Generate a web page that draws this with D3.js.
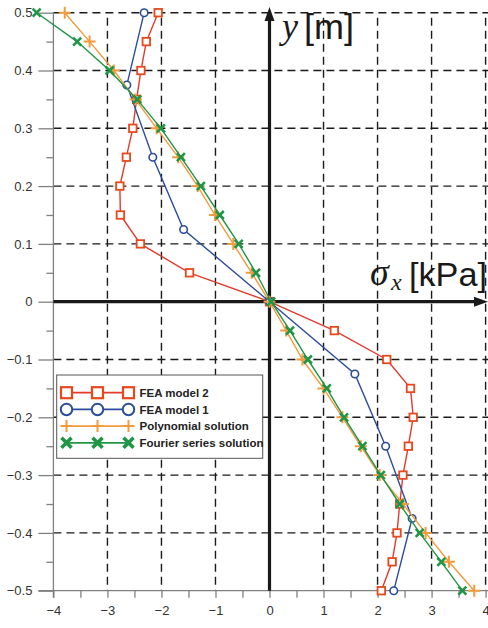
<!DOCTYPE html>
<html><head><meta charset="utf-8">
<script src="https://cdn.jsdelivr.net/npm/d3@7"></script>
<style>html,body{margin:0;padding:0;background:#fff;}svg{display:block;}</style>
</head><body>
<script>
// ---- data ----
const fea2Y = [0.5,0.45,0.4,0.35,0.3,0.25,0.2,0.15,0.1,0.05,0,-0.05,-0.1,-0.15,-0.2,-0.25,-0.3,-0.35,-0.4,-0.45,-0.5];
const fea2X = [-2.06,-2.28,-2.38,-2.46,-2.53,-2.65,-2.77,-2.76,-2.39,-1.48,0,1.20,2.17,2.61,2.66,2.57,2.47,2.41,2.36,2.27,2.07];
const fea1Y = [0.5,0.375,0.25,0.125,0,-0.125,-0.25,-0.375,-0.5];
const fea1X = [-2.32,-2.64,-2.16,-1.59,0,1.58,2.15,2.64,2.30];
const polyY = [0.5,0.45,0.4,0.35,0.3,0.25,0.2,0.15,0.1,0.05,0,-0.05,-0.1,-0.15,-0.2,-0.25,-0.3,-0.35,-0.4,-0.45,-0.5];
const polyX = [-3.79,-3.33,-2.88,-2.48,-2.09,-1.69,-1.33,-1.01,-0.67,-0.33,0,0.31,0.61,1.00,1.35,1.69,2.04,2.47,2.89,3.32,3.79];
const fourY = [0.5,0.45,0.4,0.35,0.3,0.25,0.2,0.15,0.1,0.05,0,-0.05,-0.1,-0.15,-0.2,-0.25,-0.3,-0.35,-0.4,-0.45,-0.5];
const fourX = [-4.31,-3.56,-2.96,-2.45,-2.01,-1.64,-1.27,-0.92,-0.57,-0.25,0.03,0.38,0.71,1.06,1.38,1.72,2.06,2.41,2.78,3.18,3.57];
const seriesNames = ["FEA model 2","FEA model 1","Polynomial solution","Fourier series solution"];
const xTicks = [-4,-3,-2,-1,0,1,2,3,4];
const xMinorTicks = [-3.5,-2.5,-1.5,-0.5,0.5,1.5,2.5,3.5];
const yTicks = [0.5,0.4,0.3,0.2,0.1,0,-0.1,-0.2,-0.3,-0.4,-0.5];
const yMinorTicks = [0.45,0.35,0.25,0.15,0.05,-0.05,-0.15,-0.25,-0.35,-0.45];

const W = 488, H = 628;
const svg = d3.select("body").append("svg").attr("width", W).attr("height", H);
const x = d3.scaleLinear().domain([-4,4]).range([53.4,485.6]);
const y = d3.scaleLinear().domain([-0.5,0.5]).range([590.7,12.7]);

// grid
const grid = svg.append("g").attr("stroke","#1a1a1a").attr("stroke-width",1.4).attr("stroke-dasharray","8,5");
grid.selectAll("line.h").data(yTicks.filter(v=>v!==0 && v!==-0.5)).join("line")
  .attr("x1", x(-4)).attr("x2", W).attr("y1", d=>y(d)).attr("y2", d=>y(d));
grid.selectAll("line.v").data(xTicks.filter(v=>v!==0 && v!==-4)).join("line")
  .attr("x1", d=>x(d)).attr("x2", d=>x(d)).attr("y1", y(0.5)+5).attr("y2", y(-0.5));

// left axis
const axL = svg.append("g").attr("transform",`translate(${x(-4)},0)`)
  .call(d3.axisLeft(y).tickValues(yTicks).tickSize(15).tickPadding(6).tickFormat(d=>d===0?"0":d3.format("")(d)));
axL.select(".domain").remove();
svg.append("g").attr("transform",`translate(${x(-4)},0)`)
  .call(d3.axisLeft(y).tickValues(yMinorTicks).tickSize(7).tickFormat(""))
  .select(".domain").remove();
svg.append("line").attr("x1",x(-4)).attr("x2",x(-4)).attr("y1",y(0.5)).attr("y2",y(-0.5)+7)
  .attr("stroke","#808080").attr("stroke-width",1.3);
// bottom axis
const axB = svg.append("g").attr("transform",`translate(0,${y(-0.5)})`)
  .call(d3.axisBottom(x).tickValues(xTicks).tickSize(7).tickPadding(8).tickFormat(d3.format("")));
axB.select(".domain").remove();
svg.append("g").attr("transform",`translate(0,${y(-0.5)})`)
  .call(d3.axisBottom(x).tickValues(xMinorTicks).tickSize(7).tickFormat(""))
  .select(".domain").remove();
svg.append("line").attr("x1",x(-4)-15).attr("x2",W).attr("y1",y(-0.5)).attr("y2",y(-0.5))
  .attr("stroke","#808080").attr("stroke-width",1.3);
svg.selectAll(".tick line").attr("stroke","#808080").attr("stroke-width",1.3);
svg.selectAll(".tick text").attr("font-family","Liberation Sans, Arial, sans-serif").attr("font-size",13).attr("fill","#333");

// main axes with arrows
const ax = svg.append("g").attr("fill","#1a1a1a").attr("stroke","#1a1a1a");
ax.append("line").attr("x1",x(0)).attr("x2",x(0)).attr("y1",y(-0.5)).attr("y2",18).attr("stroke-width",3.2);
ax.append("path").attr("stroke","none").attr("d",`M${x(0)},7 L${x(0)-5},21 L${x(0)+5},21 Z`);
ax.append("line").attr("x1",x(-4)).attr("x2",478).attr("y1",y(0)).attr("y2",y(0)).attr("stroke-width",3.2);
ax.append("path").attr("stroke","none").attr("d",`M488,${y(0)} L474,${y(0)-5} L474,${y(0)+5} Z`);

// axis titles
svg.append("text").attr("x",282).attr("y",38).attr("font-family","Liberation Serif, Times New Roman, serif")
  .attr("font-style","italic").attr("font-size",36).attr("fill","#1a1a1a").text("y");
svg.append("text").attr("x",304).attr("y",39).attr("font-family","Liberation Sans, Arial, sans-serif")
  .attr("font-size",35).attr("fill","#1a1a1a").attr("textLength",50).attr("lengthAdjust","spacingAndGlyphs").text("[m]");
svg.append("text").attr("x",370).attr("y",285).attr("font-family","Liberation Serif, Times New Roman, serif")
  .attr("font-style","italic").attr("font-size",38).attr("fill","#1a1a1a").text("σ");
svg.append("text").attr("x",391).attr("y",290).attr("font-family","Liberation Serif, Times New Roman, serif")
  .attr("font-style","italic").attr("font-size",24).attr("fill","#1a1a1a").text("x");
svg.append("text").attr("x",409).attr("y",286).attr("font-family","Liberation Sans, Arial, sans-serif")
  .attr("font-size",34).attr("fill","#1a1a1a").attr("textLength",78).attr("lengthAdjust","spacingAndGlyphs").text("[kPa]");

// markers
function marker(g, type, cx, cy, s, color, sw){
  if(type==="square"){
    g.append("rect").attr("x",cx-s/2).attr("y",cy-s/2).attr("width",s).attr("height",s)
      .attr("fill","#fff").attr("stroke",color).attr("stroke-width",sw);
  } else if(type==="circle"){
    g.append("circle").attr("cx",cx).attr("cy",cy).attr("r",s/2)
      .attr("fill","#fff").attr("stroke",color).attr("stroke-width",sw);
  } else if(type==="plus"){
    g.append("path").attr("d",`M${cx-s/2},${cy}H${cx+s/2}M${cx},${cy-s/2}V${cy+s/2}`)
      .attr("stroke",color).attr("stroke-width",sw).attr("fill","none");
  } else {
    g.append("path").attr("d",`M${cx-s/2},${cy-s/2}L${cx+s/2},${cy+s/2}M${cx-s/2},${cy+s/2}L${cx+s/2},${cy-s/2}`)
      .attr("stroke",color).attr("stroke-width",sw).attr("fill","none");
  }
}
const series = [
  {xs:fea2X, ys:fea2Y, line:"#e23a2c", mk:"#e8481c", type:"square", s:7.5, sw:1.8, ls:11, lsw:2.2},
  {xs:fea1X, ys:fea1Y, line:"#2c4c9c", mk:"#2c4c9c", type:"circle", s:7.5, sw:1.6, ls:11.5, lsw:2},
  {xs:polyX, ys:polyY, line:"#f49a3c", mk:"#f49a3c", type:"plus", s:12, sw:2, ls:12, lsw:2},
  {xs:fourX, ys:fourY, line:"#1f9646", mk:"#1f9646", type:"x", s:8, sw:2.6, ls:10, lsw:3.6}
];
const lineGen = d3.line().x(d=>x(d[0])).y(d=>y(d[1]));
series.forEach(s=>{
  const pts = s.xs.map((v,i)=>[v, s.ys[i]]);
  const g = svg.append("g");
  g.append("path").datum(pts).attr("d",lineGen).attr("fill","none").attr("stroke",s.line).attr("stroke-width",1.4);
  pts.forEach(p=>marker(g, s.type, x(p[0]), y(p[1]), s.s, s.mk, s.sw));
});

// legend
const lg = svg.append("g");
lg.append("rect").attr("x",56.7).attr("y",375).attr("width",206).attr("height",83.3)
  .attr("fill","#fff").attr("stroke","#555").attr("stroke-width",1);
series.forEach((s,i)=>{
  const yy = 392.7 + i*16.7;
  lg.append("line").attr("x1",66.5).attr("x2",128.5).attr("y1",yy).attr("y2",yy).attr("stroke",s.line).attr("stroke-width",1.8);
  [66.5,97.5,128.5].forEach(cx=>marker(lg, s.type, cx, yy, s.ls, s.mk, s.lsw));
  lg.append("text").attr("x",139.5).attr("y",yy+4.2).attr("font-family","Liberation Sans, Arial, sans-serif")
    .attr("font-weight","bold").attr("font-size",11.5).attr("fill","#222").text(seriesNames[i]);
});
</script>
</body></html>
